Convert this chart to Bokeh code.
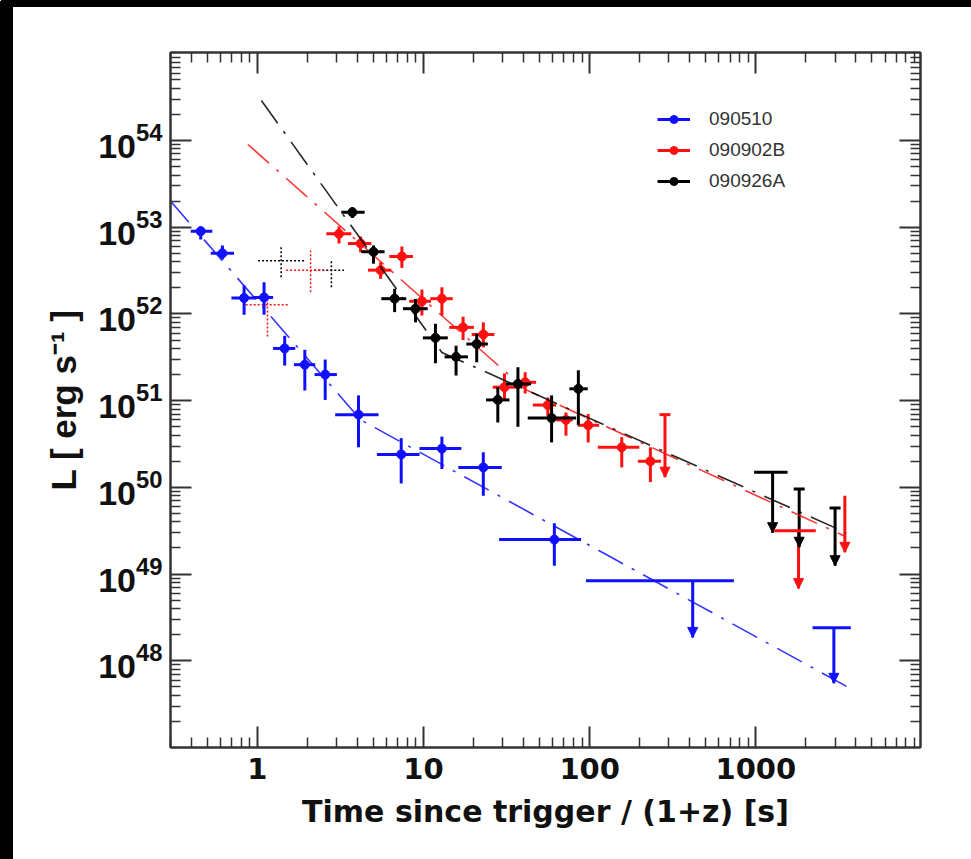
import numpy as np
from bokeh.plotting import figure
from bokeh.models import (ColumnDataSource, FixedTicker, LogAxis, Legend, LegendItem,
                          Whisker, NormalHead, CustomJSTickFormatter, PrintfTickFormatter,
                          LogTickFormatter, Range1d)
from bokeh.embed import file_html
from bokeh.resources import INLINE

# ---------------- data ----------------
# GRB 090510
b_t   = [0.456, 0.616, 0.832, 1.097, 1.46, 1.93, 2.56, 4.06, 7.34, 12.9, 22.9, 61.3]
b_tlo = [0.397, 0.524, 0.698, 0.942, 1.243, 1.66, 2.21, 2.94, 5.24, 9.46, 16.2, 28.5]
b_thi = [0.536, 0.724, 0.986, 1.243, 1.69, 2.23, 3.01, 5.36, 9.46, 16.9, 29.6, 88.8]
b_L   = [9.0e52, 5.0e52, 1.53e52, 1.55e52, 4.0e51, 2.6e51, 2.0e51, 6.9e50, 2.4e50, 2.8e50, 1.7e50, 2.5e49]
b_Lhi = [1.02e53, 6.15e52, 2.13e52, 2.32e52, 5.6e51, 3.86e51, 2.98e51, 1.15e51, 3.7e50, 3.85e50, 2.54e50, 3.86e49]
b_Llo = [7.2e52, 4.24e52, 9.8e51, 9.8e51, 2.54e51, 1.31e51, 1.02e51, 2.9e50, 1.11e50, 1.63e50, 8.0e49, 1.25e49]
b_ul_t   = [417, 2950]
b_ul_tlo = [95, 2195]
b_ul_thi = [738, 3730]
b_ul_L   = [8.4e48, 2.4e48]
b_ul_tip = [1.86e48, 5.5e47]
b_ul_cap = [0, 0]

# GRB 090902B
r_t   = [3.10, 4.18, 5.52, 7.41, 9.78, 12.9, 17.3, 22.9, 30.7, 40.9, 56, 72, 98, 156, 232]
r_tlo = [2.60, 3.51, 4.63, 6.22, 8.20, 11.0, 14.3, 19.5, 26.1, 35.1, 45.5, 62.8, 84.8, 112, 195]
r_thi = [3.68, 4.85, 6.40, 8.64, 11.1, 15.0, 20.1, 26.7, 36.1, 47.6, 62.8, 79.1, 114, 199, 269]
r_L   = [8.4e52, 6.5e52, 3.2e52, 4.6e52, 1.4e52, 1.5e52, 7.0e51, 5.8e51, 1.43e51, 1.63e51, 8.9e50, 6.0e50, 5.2e50, 2.9e50, 2.0e50]
r_Lhi = [1.02e53, 7.8e52, 3.95e52, 5.98e52, 1.91e52, 2.03e52, 9.3e51, 8.0e51, 2.06e51, 2.13e51, 1.09e51, 7.3e50, 7.0e50, 3.8e50, 2.9e50]
r_Llo = [6.5e52, 5.15e52, 2.54e52, 3.4e52, 9.6e51, 9.6e51, 5.0e51, 4.1e51, 1.0e51, 1.21e51, 6.7e50, 3.95e50, 3.3e50, 1.7e50, 1.15e50]
r_ul_t   = [284, 1808, 3435]
r_ul_tlo = [284, 1291, 3435]
r_ul_thi = [284, 2296, 3435]
r_ul_L   = [6.9e50, 3.16e49, 8.0e49]
r_ul_tip = [1.31e50, 6.8e48, 1.78e49]
r_ul_cap = [1, 0, 0]

# GRB 090926A
k_t   = [3.73, 5.0, 6.7, 8.95, 11.8, 15.7, 20.9, 28.0, 37.0, 59.0, 85.5]
k_tlo = [3.20, 4.22, 5.57, 7.52, 9.91, 13.4, 18.1, 23.8, 31.4, 42.4, 75.5]
k_thi = [4.42, 5.83, 7.87, 10.6, 14.0, 18.5, 24.4, 32.9, 44.4, 82.8, 97.4]
k_L   = [1.49e53, 5.2e52, 1.5e52, 1.15e52, 5.3e51, 3.2e51, 4.5e51, 1.02e51, 1.56e51, 6.3e50, 1.37e51]
k_Lhi = [1.70e53, 6.15e52, 1.95e52, 1.49e52, 7.7e51, 4.3e51, 5.9e51, 1.43e51, 2.43e51, 1.15e51, 2.24e51]
k_Llo = [1.28e53, 3.8e52, 1.05e52, 8.0e51, 2.7e51, 1.95e51, 2.77e51, 5.6e50, 5.0e50, 3.3e50, 5.2e50]
k_ul_t   = [1262, 1824, 3000]
k_ul_tlo = [977, 1824, 3000]
k_ul_thi = [1553, 1824, 3000]
k_ul_L   = [1.49e50, 9.6e49, 5.8e49]
k_ul_tip = [3.0e49, 2.04e49, 1.25e49]
k_ul_cap = [0, 1, 1]

# dotted (prompt-phase) crosses
kd_t   = [1.39, 2.79]
kd_tlo = [1.01, 2.20]
kd_thi = [1.92, 3.32]
kd_L   = [4.1e52, 3.2e52]
kd_Lhi = [5.9e52, 4.1e52]
kd_Llo = [2.65e52, 2.03e52]
rd_t   = [2.09, 1.15]
rd_tlo = [1.49, 0.85]
rd_thi = [2.54, 1.53]
rd_L   = [3.2e52, 1.28e52]
rd_Lhi = [5.4e52, 1.59e52]
rd_Llo = [1.78e52, 5.5e51]

# broken power-law fits (vertices)
b_fit_t = [0.30, 4.19, 3630]
b_fit_L = [2.0e53, 6.0e50, 4.9e47]
r_fit_t = [0.877, 41.2, 3500]
r_fit_L = [9.0e53, 1.34e51, 2.69e49]
k_fit_t = [1.057, 12.9, 3500]
k_fit_L = [2.9e54, 3.6e51, 3.0e49]

names = ["090510", "090902B", "090926A"]

x_major = [1, 10, 100, 1000]
y_major = [1e48, 1e49, 1e50, 1e51, 1e52, 1e53, 1e54]

# ---------------- figure ----------------
W, H = 971, 859
XMIN, XMAX = 0.3, 9800
YMIN, YMAX = 1.0e47, 1.036e55
x_minor = [k * 10.0 ** e for e in range(-1, 4) for k in range(2, 10) if XMIN <= k * 10.0 ** e <= XMAX]
y_minor = [k * 10.0 ** e for e in range(47, 55) for k in range(2, 10) if YMIN <= k * 10.0 ** e <= YMAX]

p = figure(width=W, height=H, x_axis_type="log", y_axis_type="log",
           x_range=Range1d(XMIN, XMAX), y_range=Range1d(YMIN, YMAX),
           output_backend="svg", toolbar_location=None,
           min_border_left=170, min_border_right=51, min_border_top=52, min_border_bottom=112)
p.background_fill_color = "white"
p.border_fill_color = "white"
p.xgrid.visible = False
p.ygrid.visible = False
p.outline_line_color = "#333333"
p.outline_line_width = 2

xax = p.xaxis[0]
yax = p.yaxis[0]
xax.ticker = FixedTicker(ticks=x_major, minor_ticks=x_minor)
xax.formatter = PrintfTickFormatter(format="%d")
yax.ticker = FixedTicker(ticks=y_major, minor_ticks=y_minor)
yax.formatter = LogTickFormatter()

top = LogAxis(ticker=FixedTicker(ticks=x_major, minor_ticks=x_minor),
              formatter=CustomJSTickFormatter(code="return ''"))
right = LogAxis(ticker=FixedTicker(ticks=y_major, minor_ticks=y_minor),
                formatter=CustomJSTickFormatter(code="return ''"))
p.add_layout(top, "above")
p.add_layout(right, "right")

for ax in [xax, yax, top, right]:
    ax.major_tick_in = 21
    ax.major_tick_out = 0
    ax.minor_tick_in = 10
    ax.minor_tick_out = 0
    ax.axis_line_width = 2
    ax.axis_line_color = "#333333"
    ax.major_tick_line_color = "#333333"
    ax.minor_tick_line_color = "#333333"
    ax.major_tick_line_width = 2
    ax.minor_tick_line_width = 1.5
for ax in [top, right]:
    ax.major_label_text_font_size = "1px"

xax.major_label_text_font = "DejaVu Sans"
xax.major_label_text_font_style = "bold"
xax.major_label_text_font_size = "29px"
xax.major_label_text_color = "#111111"
xax.major_label_standoff = 10
xax.axis_label = "Time since trigger / (1+z) [s]"
xax.axis_label_text_font = "DejaVu Sans"
xax.axis_label_text_font_style = "bold"
xax.axis_label_text_font_size = "30px"
xax.axis_label_text_color = "#111111"
xax.axis_label_standoff = 12

yax.major_label_text_font = "Liberation Sans"
yax.major_label_text_font_style = "bold"
yax.major_label_text_font_size = "34px"
yax.major_label_text_color = "#111111"
yax.major_label_standoff = 8
yax.axis_label = "L [ erg s\u207b\u00b9 ]"
yax.axis_label_text_font = "Liberation Sans"
yax.axis_label_text_font_style = "bold"
yax.axis_label_text_font_size = "35px"
yax.axis_label_text_color = "#111111"
yax.axis_label_standoff = 12

DASH = "28 10 3 10"

series = [
    ("#1010ff", b_t, b_tlo, b_thi, b_L, b_Lhi, b_Llo, b_ul_t, b_ul_tlo, b_ul_thi, b_ul_L, b_ul_tip, b_ul_cap, b_fit_t, b_fit_L),
    ("#ff1010", r_t, r_tlo, r_thi, r_L, r_Lhi, r_Llo, r_ul_t, r_ul_tlo, r_ul_thi, r_ul_L, r_ul_tip, r_ul_cap, r_fit_t, r_fit_L),
    ("#000000", k_t, k_tlo, k_thi, k_L, k_Lhi, k_Llo, k_ul_t, k_ul_tlo, k_ul_thi, k_ul_L, k_ul_tip, k_ul_cap, k_fit_t, k_fit_L),
]

# dotted crosses
for c, t, tlo, thi, L, Lhi, Llo in [("#000000", kd_t, kd_tlo, kd_thi, kd_L, kd_Lhi, kd_Llo),
                                    ("#ff1010", rd_t, rd_tlo, rd_thi, rd_L, rd_Lhi, rd_Llo)]:
    p.segment(x0=tlo, y0=L, x1=thi, y1=L, line_color=c, line_width=1.5, line_dash="2 2")
    p.segment(x0=t, y0=Llo, x1=t, y1=Lhi, line_color=c, line_width=1.5, line_dash="2 2")

items = []
for name, (c, t, tlo, thi, L, Lhi, Llo, ut, utlo, uthi, uL, utip, ucap, ft, fL) in zip(names, series):
    p.line(ft, fL, line_color=c, line_width=1.6, line_dash=DASH, line_alpha=0.85)
    xr = p.segment(x0=tlo, y0=L, x1=thi, y1=L, line_color=c, line_width=3)
    p.segment(x0=t, y0=Llo, x1=t, y1=Lhi, line_color=c, line_width=3)
    sr = p.scatter(t, L, size=9, marker="circle", fill_color=c, line_color=c)
    # upper limits
    ut_a = np.array(ut, dtype=float)
    utlo_a = np.array(utlo, dtype=float)
    uthi_a = np.array(uthi, dtype=float)
    uL_a = np.array(uL, dtype=float)
    cap_a = np.array(ucap, dtype=bool)
    hasx = utlo_a != uthi_a
    if hasx.any():
        p.segment(x0=utlo_a[hasx], y0=uL_a[hasx], x1=uthi_a[hasx], y1=uL_a[hasx],
                  line_color=c, line_width=3)
    if cap_a.any():
        p.scatter(ut_a[cap_a], uL_a[cap_a], marker="dash", size=11, line_color=c, line_width=3)
    src = ColumnDataSource(dict(t=ut, top=uL, tip=utip))
    w = Whisker(source=src, base="t", upper="top", lower="tip", dimension="height",
                line_color=c, line_width=3, upper_head=None,
                lower_head=NormalHead(size=10, fill_color=c, line_color=c, line_width=1))
    p.add_layout(w)
    items.append(LegendItem(label=name, renderers=[xr, sr]))

legend = Legend(items=items, location=(487, 555), padding=5, spacing=9,
                glyph_width=33, glyph_height=20, label_height=20, label_standoff=19,
                label_text_font="Liberation Sans", label_text_font_size="19px",
                label_text_color="#333333", border_line_color=None,
                background_fill_alpha=0.0)
p.add_layout(legend, "center")

html = file_html(p, INLINE)
# dark page edge at top and left, laid over the page without moving the plot
page_style = ("<style>"
              "html, body { margin: 0; padding: 0; background: #ffffff; }"
              "body::before { content: ''; position: fixed; left: 0; top: 1px; width: 13px; height: 858px;"
              " background: #000000; z-index: 10000; pointer-events: none; }"
              "body::after { content: ''; position: fixed; left: 1px; top: 0; width: 970px; height: 7px;"
              " background: #000000; z-index: 10000; pointer-events: none; }"
              "</style>")
if "</head>" in html:
    html = html.replace("</head>", page_style + "</head>", 1)
open("out.html", "w").write(html)
